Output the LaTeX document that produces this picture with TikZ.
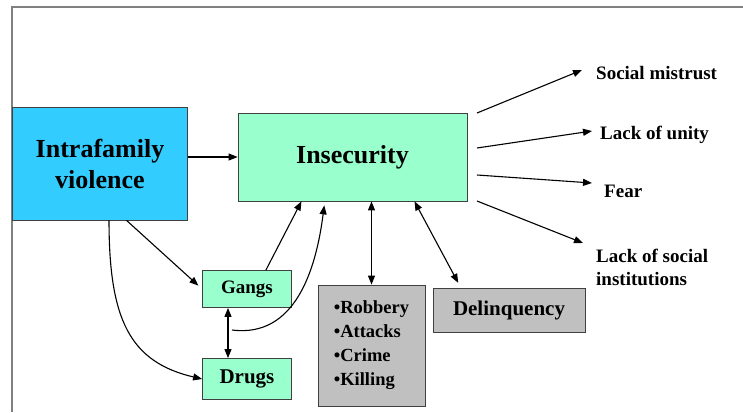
\documentclass[tikz,border=0pt]{standalone}
\usepackage{fontspec}
\setmainfont{Liberation Serif}
\usetikzlibrary{arrows.meta}
\definecolor{cyanbox}{HTML}{33CCFF}
\definecolor{mint}{HTML}{99FFCC}
\definecolor{greybox}{HTML}{C0C0C0}
\begin{document}
\begin{tikzpicture}[x=1pt,y=-1pt,
  box/.style={draw=black!75, line width=0.8pt, inner sep=0pt, font=\bfseries},
  arr/.style={line width=1.1pt, -{Triangle[length=9pt,width=7pt]}},
  darr/.style={line width=1.1pt, {Triangle[length=9pt,width=7pt]}-{Triangle[length=9pt,width=7pt]}},
  lbl/.style={anchor=west, inner sep=0pt, font=\bfseries\fontsize{19}{23}\selectfont, align=left}]
\useasboundingbox (0,0) rectangle (743,412);
\draw[gray, line width=1.2pt] (12,412) -- (12,7) -- (743,7);

\node[box, fill=cyanbox, minimum width=175pt, minimum height=113pt,
      font=\bfseries\fontsize{26}{31}\selectfont, align=center] (intra) at (100,163.5) {Intrafamily\\violence};
\node[box, fill=mint, minimum width=229pt, minimum height=88pt,
      font=\bfseries\fontsize{26}{31}\selectfont] (insec) at (352.5,157) {Insecurity};
\node[box, fill=mint, minimum width=89pt, minimum height=37pt,
      font=\bfseries\fontsize{19}{23}\selectfont] (gangs) at (247,289) {Gangs};
\node[box, fill=mint, minimum width=89pt, minimum height=41pt,
      font=\bfseries\fontsize{21}{25}\selectfont] (drugs) at (247,379) {Drugs};
\node[box, fill=greybox, minimum width=107pt, minimum height=121pt, align=left,
      font=\bfseries\fontsize{18.5}{24}\selectfont] (rob) at (371.5,345.5) {•Robbery\\•Attacks\\•Crime\\•Killing};
\node[box, fill=greybox, minimum width=152pt, minimum height=44pt,
      font=\bfseries\fontsize{21}{25}\selectfont] (delinq) at (509,310.5) {Delinquency};

\node[lbl] (sm) at (596,73) {Social mistrust};
\node[lbl] (lu) at (600,135) {Lack of unity};
\node[lbl] (fear) at (604,191) {Fear};
\node[lbl] (lsi) at (596,267) {Lack of social\\institutions};

\coordinate (o1) at (477,113);
\coordinate (o2) at (477,148);
\coordinate (o3) at (477,175);
\coordinate (o4) at (477,201);
\coordinate (cs) at (232,330);

\draw[arr] (intra.east |- insec.west) -- (insec.west);
\draw[arr, shorten >=5pt] (intra.-65) -- (gangs.west);
\draw[arr] (intra.-81) .. controls (109,320) and (130,362) .. (drugs.west);
\draw[arr] (gangs.45) -- (insec.-139);
\draw[arr, shorten >=4pt] (cs) .. controls (295,338) and (316,270) .. (insec.-122);
\draw[darr] ([xshift=-19pt]gangs.south) -- ([xshift=-19pt]drugs.north);
\draw[darr] (rob.north |- insec.south) -- (rob.north);
\draw[darr, shorten >=6pt] ([xshift=62pt]insec.south) -- ([xshift=-48pt]delinq.north);

\draw[arr] (o1) -- ([shift={(-14,-3)}]sm.west);
\draw[arr] (o2) -- ([shift={(-8,-4)}]lu.west);
\draw[arr] (o3) -- ([shift={(-12,-8)}]fear.west);
\draw[arr] (o4) -- ([shift={(-13,-24)}]lsi.west);
\end{tikzpicture}
\end{document}
